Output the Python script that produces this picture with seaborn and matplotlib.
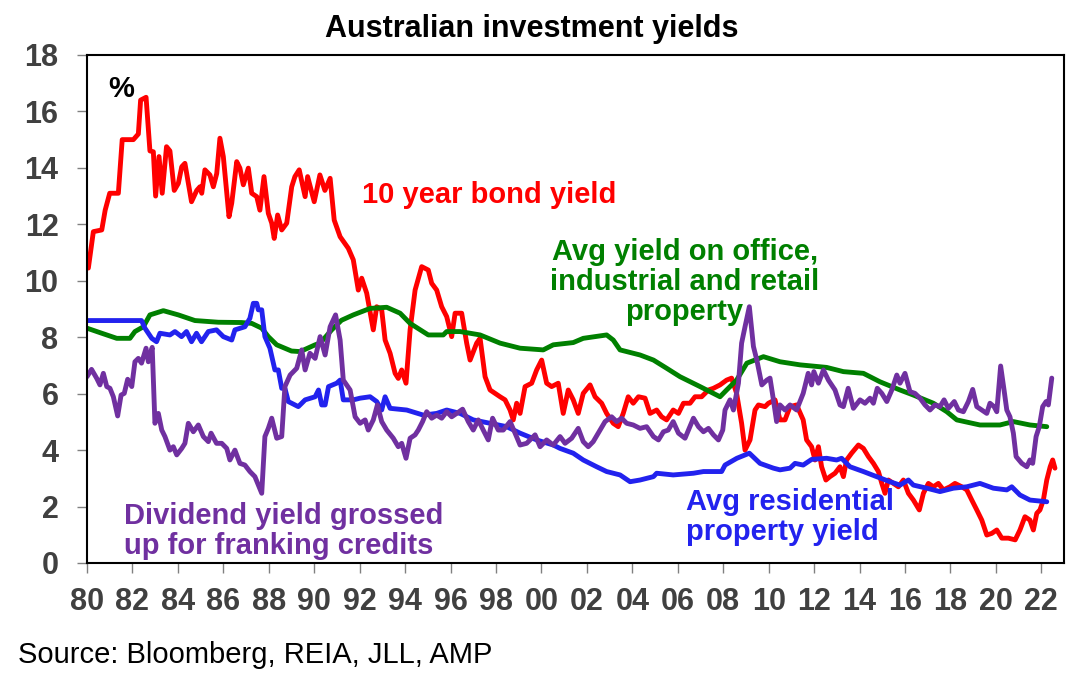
import numpy as np
import matplotlib
matplotlib.use("Agg")
import matplotlib.pyplot as plt
import seaborn as sns

# 10 year bond yield
bond_years = [1980.06, 1980.28, 1980.65, 1980.8, 1981.0, 1981.38, 1981.55, 1982.04, 1982.26, 1982.36,
              1982.6, 1982.77, 1982.92, 1983.02, 1983.17, 1983.31, 1983.5, 1983.65, 1983.84, 1984.02,
              1984.17, 1984.31, 1984.6, 1984.83, 1984.97, 1985.05, 1985.19, 1985.41, 1985.56, 1985.71,
              1985.85, 1986.0, 1986.25, 1986.37, 1986.59, 1986.73, 1986.88, 1987.1, 1987.25, 1987.47,
              1987.61, 1987.79, 1987.98, 1988.13, 1988.24, 1988.39, 1988.57, 1988.79, 1989.01, 1989.15,
              1989.34, 1989.6, 1989.71, 1990.0, 1990.25, 1990.47, 1990.7, 1990.88, 1991.14, 1991.5,
              1991.72, 1991.94, 1992.09, 1992.31, 1992.6, 1992.75, 1992.97, 1993.12, 1993.34, 1993.56,
              1993.7, 1993.85, 1994.04, 1994.22, 1994.44, 1994.73, 1995.02, 1995.17, 1995.39, 1995.61,
              1995.83, 1996.05, 1996.2, 1996.49, 1996.71, 1996.86, 1997.15, 1997.3, 1997.52, 1997.74,
              1997.96, 1998.18, 1998.4, 1998.62, 1998.76, 1998.91, 1999.06, 1999.28, 1999.57, 1999.79,
              2000.01, 2000.23, 2000.45, 2000.74, 2000.96, 2001.18, 2001.4, 2001.62, 2001.84, 2002.14,
              2002.36, 2002.65, 2002.87, 2003.16, 2003.38, 2003.6, 2003.82, 2004.04, 2004.27, 2004.56,
              2004.78, 2005.07, 2005.29, 2005.51, 2005.8, 2006.03, 2006.25, 2006.54, 2006.76, 2007.05,
              2007.35, 2007.57, 2007.86, 2008.15, 2008.37, 2008.59, 2008.81, 2008.96, 2009.18, 2009.4,
              2009.55, 2009.84, 2009.99, 2010.28, 2010.5, 2010.72, 2010.94, 2011.23, 2011.52, 2011.67,
              2011.89, 2012.04, 2012.19, 2012.33, 2012.52, 2012.7, 2012.92, 2013.14, 2013.29, 2013.43,
              2013.65, 2013.95, 2014.17, 2014.39, 2014.61, 2014.83, 2014.98, 2015.12, 2015.27, 2015.49,
              2015.71, 2015.93, 2016.15, 2016.37, 2016.63, 2016.81, 2017.03, 2017.25, 2017.47, 2017.69,
              2017.98, 2018.2, 2018.5, 2018.72, 2018.94, 2019.16, 2019.38, 2019.6, 2019.82, 2020.04,
              2020.26, 2020.55, 2020.85, 2021.06, 2021.28, 2021.5, 2021.65, 2021.8, 2021.94, 2022.09,
              2022.24, 2022.39, 2022.5, 2022.6]
bond_vals = [10.45, 11.74, 11.8, 12.5, 13.1, 13.1, 15.0, 15.0, 15.2, 16.4,
             16.5, 14.6, 14.57, 13.0, 14.4, 13.1, 14.75, 14.6, 13.2, 13.45,
             14.04, 14.16, 12.8, 13.2, 13.33, 13.1, 13.93, 13.75, 13.33, 13.8,
             15.05, 14.4, 12.27, 12.75, 14.22, 13.99, 13.4, 13.99, 13.1, 12.98,
             12.5, 13.69, 12.39, 12.04, 11.5, 12.33, 11.8, 12.04, 13.33, 13.69,
             13.93, 12.98, 13.69, 12.8, 13.75, 13.2, 13.63, 12.15, 11.56, 11.15,
             10.74, 9.67, 10.09, 9.56, 8.26, 9.08, 8.97, 7.9, 7.43, 6.72,
             6.54, 6.84, 6.37, 8.26, 9.67, 10.5, 10.38, 9.91, 9.67, 9.08,
             8.73, 8.02, 8.85, 8.85, 7.79, 7.19, 7.79, 7.96, 6.6, 6.13,
             6.01, 5.89, 5.78, 5.42, 5.07, 5.66, 5.3, 6.25, 6.37, 6.84,
             7.19, 6.37, 6.25, 6.37, 5.3, 6.13, 5.78, 5.3, 6.01, 6.31,
             5.89, 5.66, 5.3, 4.95, 4.83, 5.3, 5.89, 5.66, 5.89, 5.84,
             5.3, 5.42, 5.18, 5.07, 5.42, 5.3, 5.66, 5.66, 5.89, 5.89,
             6.13, 6.19, 6.31, 6.48, 6.55, 6.01, 4.95, 4.0, 4.36, 5.42,
             5.6, 5.54, 5.66, 5.78, 5.07, 5.07, 5.54, 5.6, 5.07, 4.36,
             4.12, 3.65, 4.12, 3.41, 2.94, 3.06, 3.18, 3.41, 3.06, 3.65,
             3.89, 4.18, 4.06, 3.77, 3.53, 3.24, 2.82, 2.47, 2.94, 2.82,
             2.7, 2.94, 2.47, 2.23, 1.88, 2.47, 2.82, 2.7, 2.82, 2.59,
             2.7, 2.82, 2.7, 2.59, 2.23, 1.88, 1.52, 0.99, 1.05, 1.17,
             0.88, 0.88, 0.82, 1.17, 1.64, 1.52, 1.17, 1.76, 1.88, 2.23,
             2.94, 3.41, 3.65, 3.36]

# Avg yield on office, industrial and retail property
comm_years = [1980.0, 1980.65, 1981.31, 1981.89, 1982.11, 1982.48, 1982.77, 1983.36, 1984.02, 1984.75,
              1985.78, 1986.8, 1987.25, 1987.69, 1987.98, 1988.35, 1989.0, 1989.38, 1990.04, 1990.26,
              1990.77, 1991.2, 1991.72, 1992.46, 1993.19, 1993.78, 1994.22, 1995.02, 1995.68, 1995.83,
              1996.42, 1997.3, 1998.18, 1999.06, 2000.08, 2000.52, 2001.4, 2001.84, 2002.87, 2003.16,
              2003.46, 2004.34, 2004.93, 2005.51, 2006.1, 2006.98, 2007.86, 2008.15, 2008.59, 2009.04,
              2009.77, 2010.5, 2011.38, 2012.55, 2013.29, 2014.17, 2014.9, 2015.78, 2016.37, 2017.25,
              2017.84, 2018.28, 2019.3, 2020.18, 2020.77, 2021.5, 2022.24]
comm_vals = [8.32, 8.14, 7.96, 7.96, 8.2, 8.37, 8.79, 8.94, 8.79, 8.59,
             8.53, 8.52, 8.49, 8.32, 8.02, 7.73, 7.51, 7.49, 7.73, 7.79,
             8.26, 8.6, 8.79, 9.02, 9.06, 8.85, 8.49, 8.08, 8.08, 8.2,
             8.2, 8.08, 7.79, 7.61, 7.55, 7.73, 7.81, 7.96, 8.08, 7.9,
             7.55, 7.37, 7.19, 6.9, 6.6, 6.25, 5.89, 6.13, 6.48, 7.08,
             7.31, 7.13, 7.02, 6.93, 6.78, 6.72, 6.42, 6.13, 5.95, 5.66,
             5.36, 5.07, 4.89, 4.89, 5.01, 4.89, 4.83]

# Avg residential property yield
resi_years = [1980.0, 1982.4, 1982.55, 1982.85, 1983.06, 1983.21, 1983.65, 1983.87, 1984.16, 1984.38,
              1984.6, 1984.82, 1985.04, 1985.34, 1985.7, 1986.0, 1986.37, 1986.51, 1986.95, 1987.17,
              1987.32, 1987.47, 1987.54, 1987.69, 1987.83, 1988.05, 1988.27, 1988.42, 1988.57, 1988.71,
              1988.86, 1989.3, 1989.6, 1990.04, 1990.19, 1990.33, 1990.48, 1990.63, 1990.99, 1991.14,
              1991.28, 1991.72, 1992.02, 1992.46, 1992.75, 1992.97, 1993.12, 1993.34, 1994.07, 1994.8,
              1995.39, 1995.83, 1996.42, 1997.0, 1997.74, 1998.47, 1999.06, 1999.79, 2000.52, 2000.82,
              2001.4, 2001.84, 2002.43, 2002.87, 2003.46, 2003.9, 2004.34, 2004.93, 2005.07, 2005.8,
              2006.69, 2007.13, 2007.93, 2008.08, 2008.6, 2009.15, 2009.62, 2010.21, 2010.5, 2010.94,
              2011.16, 2011.52, 2011.89, 2012.55, 2012.99, 2013.21, 2013.58, 2014.17, 2014.75, 2015.34,
              2015.78, 2016.15, 2016.37, 2016.96, 2017.54, 2018.13, 2018.72, 2019.3, 2019.89, 2020.48,
              2020.7, 2021.06, 2021.5, 2022.24]
resi_vals = [8.59, 8.59, 8.32, 7.96, 7.84, 8.14, 8.08, 8.2, 8.02, 8.2,
             7.84, 8.14, 7.84, 8.2, 8.26, 8.02, 7.9, 8.26, 8.37, 8.67,
             9.2, 9.2, 8.97, 8.97, 8.02, 7.61, 6.84, 6.84, 6.19, 6.19,
             5.72, 5.54, 5.78, 5.89, 6.13, 5.6, 5.6, 6.25, 6.37, 6.48,
             5.78, 5.78, 5.84, 5.89, 5.72, 5.42, 5.89, 5.48, 5.42, 5.24,
             5.3, 5.42, 5.3, 5.07, 4.95, 4.83, 4.6, 4.36, 4.18, 4.06,
             3.89, 3.65, 3.41, 3.24, 3.12, 2.88, 2.94, 3.06, 3.18, 3.12,
             3.18, 3.24, 3.24, 3.47, 3.71, 3.89, 3.53, 3.36, 3.3, 3.36,
             3.53, 3.47, 3.67, 3.71, 3.65, 3.71, 3.41, 3.24, 3.06, 2.88,
             2.76, 2.94, 2.76, 2.65, 2.53, 2.65, 2.7, 2.82, 2.65, 2.59,
             2.7, 2.41, 2.23, 2.17]

# Dividend yield grossed up for franking credits
div_years = [1980.0, 1980.2, 1980.43, 1980.57, 1980.72, 1980.87, 1981.01, 1981.16, 1981.35, 1981.5,
             1981.64, 1981.79, 1981.97, 1982.11, 1982.26, 1982.4, 1982.6, 1982.7, 1982.87, 1982.99,
             1983.14, 1983.29, 1983.43, 1983.65, 1983.8, 1983.95, 1984.17, 1984.31, 1984.46, 1984.68,
             1984.9, 1985.12, 1985.34, 1985.46, 1985.7, 1985.93, 1986.15, 1986.29, 1986.51, 1986.73,
             1986.95, 1987.17, 1987.39, 1987.54, 1987.69, 1987.83, 1987.98, 1988.13, 1988.35, 1988.57,
             1988.71, 1988.94, 1989.23, 1989.45, 1989.6, 1989.81, 1990.04, 1990.26, 1990.48, 1990.7,
             1990.94, 1991.14, 1991.28, 1991.58, 1991.8, 1992.02, 1992.24, 1992.38, 1992.6, 1992.78,
             1992.97, 1993.19, 1993.48, 1993.7, 1993.85, 1994.04, 1994.22, 1994.44, 1994.58, 1994.77,
             1994.95, 1995.17, 1995.39, 1995.61, 1995.83, 1996.05, 1996.27, 1996.53, 1996.78, 1997.0,
             1997.22, 1997.44, 1997.66, 1997.85, 1998.1, 1998.32, 1998.62, 1998.84, 1999.06, 1999.35,
             1999.72, 1999.94, 2000.23, 2000.52, 2000.82, 2001.04, 2001.33, 2001.62, 2001.84, 2002.06,
             2002.28, 2002.58, 2002.8, 2003.09, 2003.31, 2003.53, 2003.75, 2004.04, 2004.34, 2004.63,
             2004.93, 2005.15, 2005.37, 2005.58, 2005.8, 2006.03, 2006.32, 2006.69, 2006.91, 2007.13,
             2007.35, 2007.57, 2007.79, 2007.98, 2008.08, 2008.3, 2008.45, 2008.67, 2008.81, 2008.96,
             2009.15, 2009.33, 2009.48, 2009.7, 2009.92, 2010.06, 2010.21, 2010.35, 2010.5, 2010.72,
             2010.94, 2011.23, 2011.52, 2011.74, 2011.89, 2011.99, 2012.19, 2012.41, 2012.63, 2012.92,
             2013.14, 2013.29, 2013.5, 2013.73, 2014.02, 2014.24, 2014.46, 2014.61, 2014.78, 2014.98,
             2015.2, 2015.42, 2015.64, 2015.78, 2016.0, 2016.22, 2016.44, 2016.66, 2016.88, 2017.1,
             2017.32, 2017.54, 2017.72, 2017.91, 2018.17, 2018.35, 2018.57, 2018.79, 2018.98, 2019.16,
             2019.38, 2019.6, 2019.74, 2019.92, 2020.04, 2020.21, 2020.36, 2020.48, 2020.62, 2020.77,
             2020.89, 2021.14, 2021.36, 2021.5, 2021.62, 2021.77, 2021.91, 2022.06, 2022.21, 2022.31,
             2022.46]
div_vals = [6.6, 6.86, 6.54, 6.31, 6.72, 6.25, 6.19, 5.89, 5.21, 5.95,
            6.01, 6.51, 6.25, 7.13, 7.25, 7.08, 7.61, 7.13, 7.64, 4.95,
            5.3, 4.71, 4.48, 4.0, 4.12, 3.83, 4.06, 4.24, 4.95, 4.65,
            4.89, 4.48, 4.3, 4.6, 4.24, 4.24, 4.06, 3.65, 4.0, 3.53,
            3.47, 3.24, 3.06, 2.76, 2.47, 4.48, 4.77, 5.13, 4.42, 4.48,
            6.25, 6.66, 6.9, 7.55, 6.84, 7.43, 7.25, 8.02, 7.37, 8.37,
            8.79, 7.9, 6.48, 6.13, 5.18, 4.95, 5.07, 4.71, 5.07, 5.6,
            5.01, 4.71, 4.42, 4.12, 4.24, 3.71, 4.42, 4.54, 4.71, 5.01,
            5.36, 5.13, 5.24, 5.13, 5.36, 5.18, 5.3, 5.45, 5.01, 4.71,
            5.07, 4.71, 4.36, 5.13, 4.71, 4.71, 5.01, 4.6, 4.18, 4.24,
            4.54, 4.12, 4.36, 4.18, 4.48, 4.24, 4.42, 4.77, 4.3, 4.12,
            4.3, 4.71, 5.01, 5.18, 5.01, 5.13, 4.95, 4.89, 4.77, 4.83,
            4.48, 4.36, 4.65, 4.71, 5.01, 4.6, 4.42, 5.13, 4.83, 4.65,
            4.77, 4.54, 4.36, 4.71, 5.42, 5.78, 5.42, 6.37, 7.79, 8.37,
            9.08, 7.67, 7.19, 6.31, 6.48, 6.55, 5.78, 5.01, 5.6, 5.42,
            5.6, 5.42, 6.01, 6.72, 6.31, 6.78, 6.37, 6.84, 6.48, 6.13,
            5.6, 5.54, 6.19, 5.48, 5.78, 5.66, 5.84, 5.66, 6.19, 6.01,
            5.72, 6.13, 6.66, 6.37, 6.72, 6.07, 6.01, 5.84, 5.6, 5.42,
            5.6, 5.54, 5.78, 5.48, 5.72, 5.42, 5.36, 5.72, 6.15, 5.54,
            5.42, 5.3, 5.66, 5.54, 5.36, 6.98, 6.13, 5.42, 5.18, 4.6,
            3.77, 3.53, 3.41, 3.65, 3.53, 4.48, 4.83, 5.54, 5.72, 5.6,
            6.55]

year_ticks = list(range(1980, 2023, 2))
pct_ticks = list(range(0, 19, 2))

RED = "#FF0000"
GREEN = "#008000"
BLUE = "#2222EE"
PURPLE = "#7030A0"
GREY = "#404040"

sns.set_style("white")
plt.rcParams["font.family"] = ["Liberation Sans", "DejaVu Sans"]

fig = plt.figure(figsize=(10.82, 6.87), dpi=100)
ax = fig.add_axes([0.0804, 0.1805, 0.903, 0.7395])

lw = 3.5
sns.lineplot(x=bond_years, y=bond_vals, color=RED, linewidth=lw, ax=ax, sort=False, estimator=None)
sns.lineplot(x=comm_years, y=comm_vals, color=GREEN, linewidth=lw, ax=ax, sort=False, estimator=None)
sns.lineplot(x=resi_years, y=resi_vals, color=BLUE, linewidth=lw, ax=ax, sort=False, estimator=None)
sns.lineplot(x=div_years, y=div_vals, color=PURPLE, linewidth=lw, ax=ax, sort=False, estimator=None)

ax.set_xlim(1980, 2023)
ax.set_ylim(0, 18)
ax.set_xticks(year_ticks)
ax.set_xticklabels([f"{y % 100:02d}" for y in year_ticks])
ax.set_yticks(pct_ticks)
ax.set_xlabel("")
ax.set_ylabel("")
ax.tick_params(axis="both", direction="out", length=7.5, width=1, color="#808080",
               labelsize=22, labelcolor=GREY, bottom=True, left=True)
ax.tick_params(axis="x", pad=9.5)
ax.tick_params(axis="y", pad=13)
for lbl in ax.get_xticklabels() + ax.get_yticklabels():
    lbl.set_fontweight("bold")
for sp in ax.spines.values():
    sp.set_color("black")
    sp.set_linewidth(1.5)

ax.text(0.022, 0.96, "%", transform=ax.transAxes, fontsize=21, fontweight="bold",
        color="black", ha="left", va="top")

ax.text(1997.7, 13.05, "10 year bond yield", color=RED, fontsize=21, fontweight="bold",
        ha="center", va="center")
ax.text(2006.3, 9.95, "Avg yield on office,\nindustrial and retail\nproperty", color=GREEN,
        fontsize=21, fontweight="bold", ha="center", va="center", linespacing=1.1)
ax.text(1981.65, 1.12, "Dividend yield grossed\nup for franking credits", color=PURPLE,
        fontsize=21, fontweight="bold", ha="left", va="center", linespacing=1.1)
ax.text(2006.35, 1.62, "Avg residential\nproperty yield", color=BLUE,
        fontsize=21, fontweight="bold", ha="left", va="center", linespacing=1.1)

fig.text(0.4917, 0.958, "Australian investment yields", fontsize=22, fontweight="bold",
         ha="center", va="center", color="black")
fig.text(0.017, 0.046, "Source: Bloomberg, REIA, JLL, AMP", fontsize=21,
         ha="left", va="center", color="black")

fig.savefig("out.png", dpi=100)
